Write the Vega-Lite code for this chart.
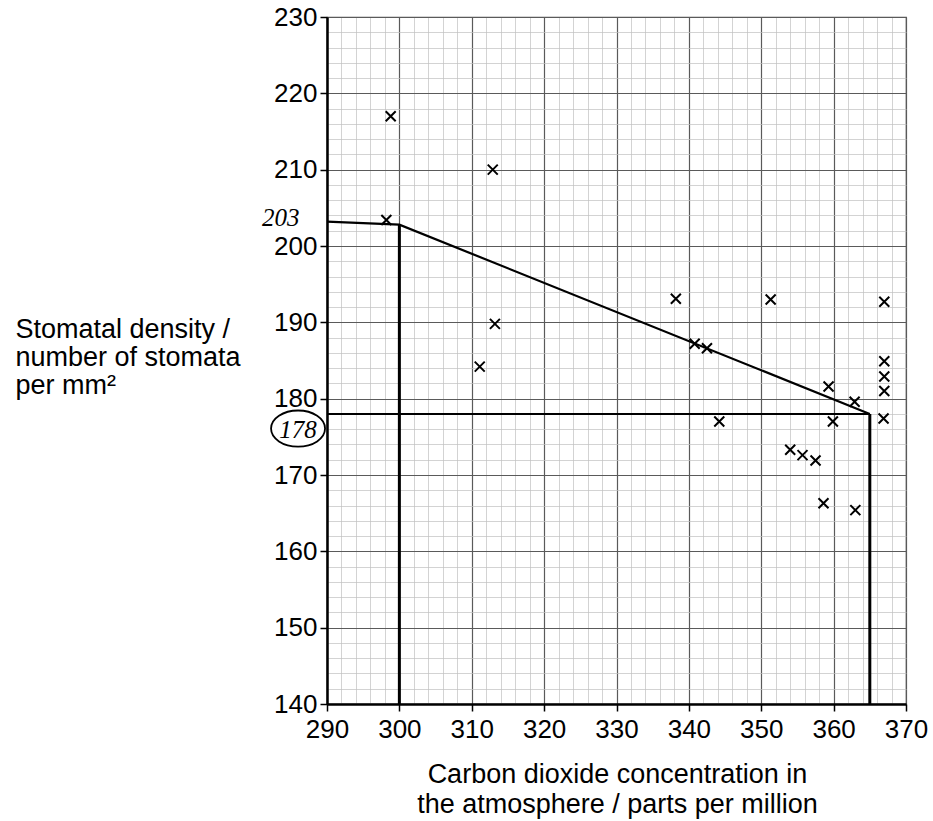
{
  "$schema": "https://vega.github.io/schema/vega-lite/v6.json",
  "width": 579,
  "height": 687,
  "autosize": {"type": "none"},
  "padding": {"left": 327, "top": 17, "right": 27, "bottom": 117},
  "background": "white",
  "config": {
    "view": {"stroke": "#555", "strokeWidth": 1.2},
    "font": "Liberation Sans"
  },
  "datasets": {
    "points": [
      {"x": 298.8, "y": 217.0},
      {"x": 312.9, "y": 210.0},
      {"x": 298.2, "y": 203.4},
      {"x": 313.2, "y": 189.8},
      {"x": 311.1, "y": 184.2},
      {"x": 338.2, "y": 193.1},
      {"x": 351.3, "y": 193.0},
      {"x": 367.0, "y": 192.7},
      {"x": 340.8, "y": 187.2},
      {"x": 342.5, "y": 186.6},
      {"x": 367.0, "y": 184.9},
      {"x": 367.0, "y": 182.9},
      {"x": 367.0, "y": 181.0},
      {"x": 359.3, "y": 181.6},
      {"x": 362.9, "y": 179.6},
      {"x": 366.9, "y": 177.4},
      {"x": 344.2, "y": 177.0},
      {"x": 359.9, "y": 177.0},
      {"x": 354.0, "y": 173.3},
      {"x": 355.7, "y": 172.6},
      {"x": 357.5, "y": 171.9},
      {"x": 358.6, "y": 166.3},
      {"x": 363.0, "y": 165.4}
    ],
    "lines": [
      {"seg": "fit", "kind": "trend", "o": 1, "x": 290, "y": 203.2},
      {"seg": "fit", "kind": "trend", "o": 2, "x": 300, "y": 202.8},
      {"seg": "fit", "kind": "trend", "o": 3, "x": 365, "y": 178.0},
      {"seg": "v300", "kind": "read", "o": 1, "x": 300, "y": 140},
      {"seg": "v300", "kind": "read", "o": 2, "x": 300, "y": 202.8},
      {"seg": "v365", "kind": "read", "o": 1, "x": 365, "y": 140},
      {"seg": "v365", "kind": "read", "o": 2, "x": 365, "y": 178.0},
      {"seg": "h178", "kind": "hread", "o": 1, "x": 290, "y": 178.0},
      {"seg": "h178", "kind": "hread", "o": 2, "x": 365, "y": 178.0}
    ],
    "notes": [
      {"label": "203", "x": 283.6, "y": 202.6, "ring": false},
      {"label": "178", "x": 286.0, "y": 174.9, "ring": true}
    ]
  },
  "encoding": {
    "x": {
      "field": "x",
      "type": "quantitative",
      "scale": {"domain": [290, 370], "nice": false, "zero": false},
      "axis": {
        "values": [290,292,294,296,298,300,302,304,306,308,310,312,314,316,318,320,322,324,326,328,330,332,334,336,338,340,342,344,346,348,350,352,354,356,358,360,362,364,366,368,370],
        "labelExpr": "datum.value % 10 === 0 ? datum.label : ''",
        "labelFontSize": 26,
        "labelColor": "black",
        "labelPadding": 5,
        "labelOverlap": false,
        "labelFlush": false,
        "tickSize": 7,
        "tickColor": "black",
        "tickWidth": 1.5,
        "tickOpacity": {"condition": {"test": "datum.value % 10 === 0", "value": 1}, "value": 0},
        "domainColor": "black",
        "domainWidth": 2.5,
        "grid": true,
        "gridColor": {"condition": {"test": "datum.value % 10 === 0", "value": "#5a5a5a"}, "value": "#c0c0c0"},
        "gridWidth": {"condition": {"test": "datum.value % 10 === 0", "value": 1.2}, "value": 0.7},
        "title": ["Carbon dioxide concentration in", "the atmosphere / parts per million"],
        "titleFontSize": 27,
        "titleFontWeight": "normal",
        "titleColor": "black",
        "titleAlign": "center",
        "titleBaseline": "alphabetic",
        "titleAngle": 0,
        "titleX": 290,
        "titleY": 78,
        "titleLineHeight": 30
      }
    },
    "y": {
      "field": "y",
      "type": "quantitative",
      "scale": {"domain": [140, 230], "nice": false, "zero": false},
      "axis": {
        "values": [140,142,144,146,148,150,152,154,156,158,160,162,164,166,168,170,172,174,176,178,180,182,184,186,188,190,192,194,196,198,200,202,204,206,208,210,212,214,216,218,220,222,224,226,228,230],
        "labelExpr": "datum.value % 10 === 0 ? datum.label : ''",
        "labelFontSize": 26,
        "labelColor": "black",
        "labelPadding": 3,
        "labelOverlap": false,
        "labelFlush": false,
        "tickSize": 7,
        "tickColor": "black",
        "tickWidth": 1.5,
        "tickOpacity": {"condition": {"test": "datum.value % 10 === 0", "value": 1}, "value": 0},
        "domainColor": "black",
        "domainWidth": 2.5,
        "grid": true,
        "gridColor": {"condition": {"test": "datum.value % 10 === 0", "value": "#5a5a5a"}, "value": "#c0c0c0"},
        "gridWidth": {"condition": {"test": "datum.value % 10 === 0", "value": 1.2}, "value": 0.7},
        "title": ["Stomatal density /", "number of stomata", "per mm²"],
        "titleFontSize": 27,
        "titleFontWeight": "normal",
        "titleColor": "black",
        "titleAngle": 0,
        "titleAlign": "left",
        "titleBaseline": "alphabetic",
        "titleX": -312,
        "titleY": 320,
        "titleLineHeight": 28
      }
    }
  },
  "layer": [
    {
      "data": {"name": "lines"},
      "transform": [{"filter": "datum.kind === 'trend'"}],
      "mark": {"type": "line", "color": "black", "strokeWidth": 2.2},
      "encoding": {"detail": {"field": "seg"}, "order": {"field": "o", "type": "quantitative"}}
    },
    {
      "data": {"name": "lines"},
      "transform": [{"filter": "datum.kind === 'read'"}],
      "mark": {"type": "line", "color": "black", "strokeWidth": 3},
      "encoding": {"detail": {"field": "seg"}, "order": {"field": "o", "type": "quantitative"}}
    },
    {
      "data": {"name": "lines"},
      "transform": [{"filter": "datum.kind === 'hread'"}],
      "mark": {"type": "line", "color": "black", "strokeWidth": 2},
      "encoding": {"detail": {"field": "seg"}, "order": {"field": "o", "type": "quantitative"}}
    },
    {
      "data": {"name": "points"},
      "mark": {
        "type": "point",
        "shape": "M-1,-1L1,1M1,-1L-1,1",
        "filled": false,
        "stroke": "black",
        "strokeWidth": 2,
        "size": 100,
        "opacity": 1
      }
    },
    {
      "data": {"name": "notes"},
      "mark": {
        "type": "text",
        "font": "Liberation Serif",
        "fontStyle": "italic",
        "fontSize": 25,
        "align": "center",
        "baseline": "alphabetic",
        "color": "black"
      },
      "encoding": {"text": {"field": "label"}}
    },
    {
      "data": {"name": "notes"},
      "transform": [{"filter": "datum.ring"}],
      "mark": {
        "type": "point",
        "shape": "M-1,0A1,0.67 0 1,1 1,0A1,0.67 0 1,1 -1,0Z",
        "filled": false,
        "stroke": "black",
        "strokeWidth": 1.8,
        "size": 2916,
        "opacity": 1,
        "yOffset": -9
      }
    }
  ]
}
